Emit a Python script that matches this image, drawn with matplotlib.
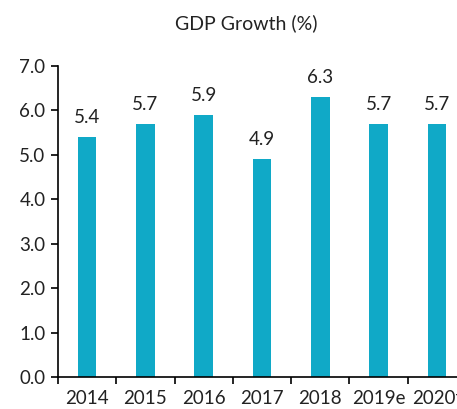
import matplotlib
matplotlib.use("Agg")
import matplotlib.pyplot as plt
import numpy as np

years = ["2014", "2015", "2016", "2017", "2018", "2019e", "2020f"]
growth = [5.4, 5.7, 5.9, 4.9, 6.3, 5.7, 5.7]

plt.rcParams["font.family"] = ["Lato", "DejaVu Sans"]

fig = plt.figure(figsize=(4.57, 4.09), dpi=100)
ax = fig.add_axes([58 / 457, 32 / 409, 408 / 457, 311 / 409])

x = np.arange(len(years))
bars = ax.bar(x, growth, width=0.32, color="#10a9c7")
for xi, v in zip(x, growth):
    ax.annotate("{:.1f}".format(v), (xi, v), xytext=(0, 8), textcoords="offset points",
                ha="center", va="bottom", fontsize=13.5, color="#222222")

ax.set_xlim(-0.5, 6.5)
ax.set_ylim(0, 7)
ax.set_yticks(np.arange(0, 7.1, 1.0))
ax.set_yticklabels(["{:.1f}".format(v) for v in np.arange(0, 7.1, 1.0)])
ax.set_xticks(x)
ax.set_xticklabels(years)
ax.set_xticks(np.arange(-0.5, 6.6, 1.0), minor=True)
ax.tick_params(axis="x", which="major", length=0, pad=9, labelsize=13.5, labelcolor="#222222")
ax.tick_params(axis="x", which="minor", length=5, width=1.2, direction="out")
ax.tick_params(axis="y", length=5, width=1.2, direction="out", labelsize=13.5, pad=4, labelcolor="#222222")
for s in ["top", "right"]:
    ax.spines[s].set_visible(False)
for s in ["left", "bottom"]:
    ax.spines[s].set_linewidth(1.2)

fig.text(246 / 457, 1 - 23 / 409, "GDP Growth (%)", ha="center", va="center", fontsize=14, color="#222222")

fig.savefig("out.png", dpi=100)
